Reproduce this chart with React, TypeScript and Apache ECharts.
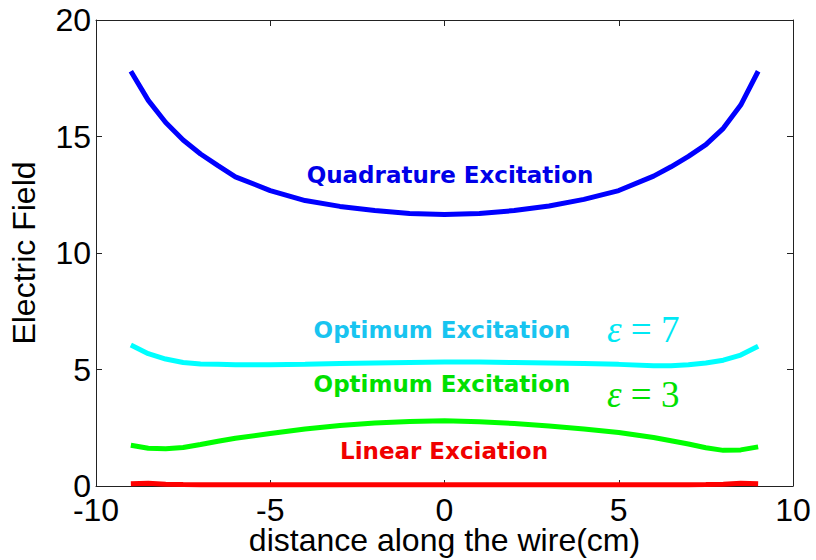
import React, { useEffect, useRef } from "react";
import * as echarts from "echarts";

// Positions along the wire (cm)
const positions = [-9, -8.5, -8, -7.5, -7, -6.5, -6, -5, -4, -3, -2, -1, 0, 1, 2, 3, 4, 5, 6, 6.5, 7, 7.5, 8, 8.5, 9];

// Field magnitude for each excitation scheme
const quadratureField = [17.8, 16.55, 15.6, 14.85, 14.25, 13.75, 13.27, 12.68, 12.25, 12.0, 11.82, 11.7, 11.65, 11.7, 11.82, 12.02, 12.3, 12.68, 13.3, 13.7, 14.15, 14.65, 15.35, 16.35, 17.8];
const optimumEps7Field = [6.05, 5.68, 5.45, 5.3, 5.24, 5.22, 5.2, 5.2, 5.22, 5.26, 5.28, 5.3, 5.32, 5.32, 5.3, 5.28, 5.26, 5.22, 5.16, 5.16, 5.2, 5.28, 5.4, 5.62, 6.0];
const optimumEps3Field = [1.75, 1.62, 1.6, 1.65, 1.78, 1.92, 2.05, 2.25, 2.45, 2.6, 2.7, 2.77, 2.8, 2.76, 2.68, 2.58, 2.45, 2.3, 2.08, 1.94, 1.8, 1.64, 1.53, 1.55, 1.68];
const linearField = [0.1, 0.12, 0.08, 0.06, 0.05, 0.05, 0.05, 0.05, 0.05, 0.05, 0.05, 0.05, 0.05, 0.05, 0.05, 0.05, 0.05, 0.05, 0.05, 0.05, 0.05, 0.06, 0.08, 0.12, 0.1];

const xLabel = "distance along the wire(cm)";
const yLabel = "Electric Field";

const pairs = (ys: number[]) => positions.map((x, i) => [x, ys[i]]);

const tickFont = { fontFamily: "Liberation Sans, Arial, sans-serif", fontSize: 32, color: "#000" };
const axisLineStyle = { color: "#222", width: 1 };

export default function App() {
  const ref = useRef<HTMLDivElement>(null);

  useEffect(() => {
    if (!ref.current) return;
    const chart = echarts.init(ref.current, null, { renderer: "svg", width: 816, height: 560 });

    const line = (name: string, ys: number[], color: string) => ({
      name,
      type: "line",
      data: pairs(ys),
      symbol: "none",
      smooth: false,
      lineStyle: { color, width: 5 },
      z: 3,
    });

    const label = (text: string, x: number, y: number, color: string) => ({
      type: "text",
      x,
      y,
      z: 10,
      style: {
        text,
        fill: color,
        font: "bold 23px 'DejaVu Sans', Verdana, sans-serif",
        align: "center",
        verticalAlign: "middle",
      },
    });

    const epsLabel = (value: string, x: number, y: number, color: string) => ({
      type: "text",
      x,
      y,
      z: 10,
      style: {
        text: `{e|ε} {n|= ${value}}`,
        verticalAlign: "middle",
        align: "left",
        rich: {
          e: { fontFamily: "Liberation Serif, Times New Roman, serif", fontStyle: "italic", fontSize: 37, fill: color },
          n: { fontFamily: "Liberation Serif, Times New Roman, serif", fontSize: 37, fill: color },
        },
        fontFamily: "Liberation Serif, serif",
        fontSize: 37,
        fill: color,
      },
    });

    const boxAxis = { show: true, onZero: false, lineStyle: axisLineStyle };
    const innerTicks = { show: true, inside: true, length: 6, lineStyle: axisLineStyle };

    chart.setOption({
      animation: false,
      backgroundColor: "#fff",
      grid: { left: 96, right: 23, top: 20, bottom: 74, containLabel: false, outerBoundsMode: "none" },
      xAxis: [
        {
          type: "value",
          min: -10,
          max: 10,
          interval: 5,
          position: "bottom",
          name: xLabel,
          nameLocation: "middle",
          nameGap: 38,
          nameMoveOverlap: false,
          nameTextStyle: { fontFamily: tickFont.fontFamily, fontSize: 32, color: "#000" },
          axisLine: boxAxis,
          axisTick: innerTicks,
          axisLabel: { ...tickFont, margin: 8 },
          splitLine: { show: false },
        },
        {
          type: "value",
          min: -10,
          max: 10,
          interval: 5,
          position: "top",
          axisLine: boxAxis,
          axisTick: innerTicks,
          axisLabel: { show: false },
          splitLine: { show: false },
        },
      ],
      yAxis: [
        {
          type: "value",
          min: 0,
          max: 20,
          interval: 5,
          position: "left",
          name: yLabel,
          nameLocation: "middle",
          nameGap: 56,
          nameTextStyle: { fontFamily: tickFont.fontFamily, fontSize: 32, color: "#000" },
          axisLine: boxAxis,
          axisTick: innerTicks,
          axisLabel: { ...tickFont, margin: 5 },
          splitLine: { show: false },
        },
        {
          type: "value",
          min: 0,
          max: 20,
          interval: 5,
          position: "right",
          axisLine: boxAxis,
          axisTick: innerTicks,
          axisLabel: { show: false },
          splitLine: { show: false },
        },
      ],
      series: [
        line("Quadrature Excitation", quadratureField, "#0000ff"),
        line("Optimum Excitation ε=7", optimumEps7Field, "#00ffff"),
        line("Optimum Excitation ε=3", optimumEps3Field, "#00ff00"),
        line("Linear Exciation", linearField, "#ff0000"),
      ],
      graphic: [
        label("Quadrature Excitation", 450, 175, "#0000e8"),
        label("Optimum Excitation", 442, 330, "#18c4f0"),
        label("Optimum Excitation", 442, 384, "#00e000"),
        label("Linear Exciation", 444, 451, "#f00000"),
        epsLabel("7", 607, 329, "#00e8f4"),
        epsLabel("3", 607, 394, "#00e000"),
      ],
    });

    return () => chart.dispose();
  }, []);

  return <div ref={ref} style={{ width: 816, height: 560, position: "absolute", left: 0, top: 0 }} />;
}
